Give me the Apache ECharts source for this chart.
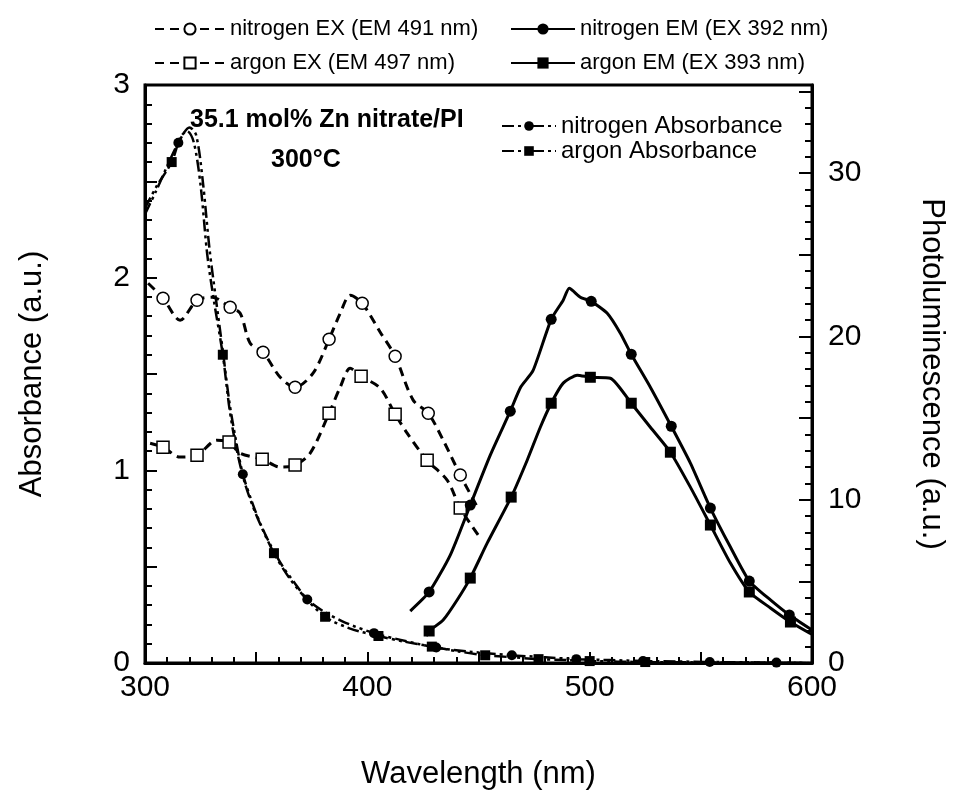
<!DOCTYPE html>
<html><head><meta charset="utf-8">
<script src="https://cdn.jsdelivr.net/npm/echarts@6/dist/echarts.min.js"></script>
<style>html,body{margin:0;padding:0;background:#fff}#c{width:957px;height:797px}</style>
</head><body><div id="c"></div><script>
const FONT = "'Liberation Sans', Arial, sans-serif";

// ---- data (wavelength nm, value) ----
// Photoluminescence (right axis)
const nitrogenEX = [[301.4,23.26],[308.1,22.34],[315.8,20.99],[323.4,22.22],[330.2,22.40],[338.3,21.79],[342.8,21.42],[347.3,19.58],[353.1,19.03],[360.8,17.50],[367.5,16.89],[375.6,17.75],[382.8,19.83],[387.8,21.42],[392.3,22.52],[397.7,22.03],[405.8,20.26],[412.5,18.79],[420.6,16.10],[427.4,15.30],[434.1,13.65],[441.8,11.51],[449.0,9.67]];
const nitrogenEXMarks = [[308.1,22.34],[323.4,22.22],[338.3,21.79],[353.1,19.03],[367.5,16.89],[382.8,19.83],[397.7,22.03],[412.5,18.79],[427.4,15.30],[441.8,11.51]];

const argonEX = [[302.3,13.46],[308.1,13.22],[315.8,12.61],[323.4,12.73],[332.4,13.65],[337.8,13.53],[342.8,12.85],[352.7,12.48],[360.8,12.00],[367.5,12.12],[374.3,12.85],[382.8,15.30],[387.8,16.89],[392.3,18.05],[397.2,17.56],[405.8,16.83],[412.5,15.24],[417.9,14.08],[426.9,12.42],[435.9,11.20],[441.8,9.49],[449.9,7.83]];
const argonEXMarks = [[308.1,13.22],[323.4,12.73],[337.8,13.53],[352.7,12.48],[367.5,12.12],[382.8,15.30],[397.2,17.56],[412.5,15.24],[426.9,12.42],[441.8,9.49]];

const nitrogenEM = [[419.3,3.18],[427.8,4.35],[437.3,6.61],[446.3,9.67],[455.3,12.73],[464.3,15.42],[469.0,16.90],[474.5,17.90],[482.7,21.05],[488.1,22.22],[490.8,22.95],[495.8,22.40],[500.7,22.15],[507.9,21.42],[513.8,20.20],[518.7,18.91],[527.3,16.89],[536.7,14.50],[545.3,12.24],[554.3,9.49],[563.3,7.10],[571.8,5.02],[581.3,3.86],[589.8,2.94],[600,2.02]];
const nitrogenEMMarks = [[427.8,4.35],[446.3,9.67],[464.3,15.42],[482.7,21.05],[500.7,22.15],[518.7,18.91],[536.7,14.50],[554.3,9.49],[571.8,5.02],[589.8,2.94]];

const argonEM = [[426.5,1.65],[427.8,1.96],[434.1,2.63],[440.4,3.86],[446.3,5.20],[453.9,7.34],[464.7,10.16],[471.9,12.42],[477.8,14.44],[482.7,15.91],[488.1,17.14],[494.4,17.63],[500.3,17.50],[509.3,17.44],[518.7,15.91],[527.3,14.44],[536.3,12.91],[545.3,10.77],[554.3,8.45],[563.3,6.12],[571.8,4.35],[581.3,3.37],[590.3,2.51],[598.8,1.84],[600,1.77]];
const argonEMMarks = [[427.8,1.96],[446.3,5.20],[464.7,10.16],[482.7,15.91],[500.3,17.50],[518.7,15.91],[536.3,12.91],[554.3,8.45],[571.8,4.35],[590.3,2.51]];

// Absorbance (left axis)
const nitrogenAbs = [[300,2.33],[305,2.45],[310,2.58],[315,2.70],[320,2.78],[323,2.74],[326,2.50],[329,2.15],[332,1.88],[335,1.62],[338,1.35],[341,1.15],[344,0.98],[348,0.84],[352,0.72],[357,0.60],[362,0.50],[367,0.42],[373,0.33],[380,0.27],[390,0.21],[403,0.155],[415,0.12],[431,0.08],[445,0.06],[465,0.04],[480,0.03],[494,0.02],[510,0.015],[524,0.01],[540,0.008],[554,0.005],[570,0.004],[584,0.002],[600,0.0]];
const nitrogenAbsMarks = [[315,2.70],[344,0.98],[373,0.33],[403,0.155],[431,0.08],[465,0.04],[494,0.02],[524,0.01],[554,0.005],[584,0.002]];

const argonAbs = [[300,2.36],[305,2.47],[312,2.60],[316,2.73],[319,2.76],[322,2.70],[325,2.48],[328,2.12],[331,1.88],[335,1.60],[338,1.32],[341,1.12],[345,0.93],[350,0.77],[358,0.57],[365,0.44],[372,0.34],[381,0.24],[392,0.18],[405,0.14],[417,0.11],[429,0.085],[441,0.06],[453,0.04],[465,0.03],[477,0.02],[490,0.015],[500,0.01],[525,0.005],[550,0.003],[575,0.002],[600,0.0]];
const argonAbsMarks = [[312,2.60],[335,1.60],[358,0.57],[381,0.24],[405,0.14],[429,0.085],[453,0.04],[477,0.02],[500,0.01],[525,0.005]];

// axis ranges / ticks
const xRange = [300, 600];
const absRange = [0, 3];
const plRange = [0, 35.4];

const names = {
  nEX: 'nitrogen EX (EM 491 nm)', aEX: 'argon EX (EM 497 nm)',
  nEM: 'nitrogen EM (EX 392 nm)', aEM: 'argon EM (EX 393 nm)',
  nAbs: 'nitrogen Absorbance', aAbs: 'argon Absorbance'
};

const K = '#000';
function lineSeries(name, data, yIdx, symbol, open, lineType, lw, smooth, symSize) {
  return {
    name, type: 'line', data, xAxisIndex: 0, yAxisIndex: yIdx,
    symbol, symbolSize: symSize, showSymbol: false, smooth,
    lineStyle: { color: K, width: lw, type: lineType },
    itemStyle: open ? { color: '#fff', borderColor: K, borderWidth: 1.5 } : { color: K, borderColor: K },
    z: 2, silent: true, animation: false
  };
}
function markSeries(name, data, yIdx, symbol, open, size) {
  return {
    name: name + ' marks', type: 'scatter', data, xAxisIndex: 0, yAxisIndex: yIdx,
    symbol, symbolSize: size,
    itemStyle: open ? { color: '#fff', borderColor: K, borderWidth: 1.5, opacity: 1 } : { color: K, opacity: 1 },
    z: 3, silent: true, animation: false
  };
}
const dashEX = [9, 6];
const dashAbs = [12, 4, 3, 4, 3, 4];

const chart = echarts.init(document.getElementById('c'), null, { renderer: 'canvas' });
chart.setOption({
  animation: false,
  backgroundColor: '#fff',
  grid: { left: 145, right: 145, top: 85, bottom: 134, show: true, borderColor: K, borderWidth: 3, backgroundColor: 'transparent' },
  xAxis: [{
    type: 'value', min: xRange[0], max: xRange[1], interval: 50,
    axisLine: { lineStyle: { color: K, width: 3 } },
    axisTick: { inside: true, length: 11, lineStyle: { color: K, width: 2 } },
    minorTick: { show: true, splitNumber: 5, length: 6, lineStyle: { color: K, width: 2 } },
    splitLine: { show: false },
    axisLabel: { color: K, fontSize: 30, fontFamily: FONT, margin: 10, formatter: v => (v % 100 === 0 ? String(v) : '') },
    name: 'Wavelength (nm)', nameLocation: 'middle', nameGap: 96,
    nameTextStyle: { color: K, fontSize: 31, fontFamily: FONT }
  }],
  yAxis: [{
    type: 'value', min: absRange[0], max: absRange[1], interval: 0.5, position: 'left',
    axisLine: { show: true, lineStyle: { color: K, width: 3 } },
    axisTick: { inside: true, length: 12, lineStyle: { color: K, width: 2 } },
    minorTick: { show: true, splitNumber: 5, length: 7, lineStyle: { color: K, width: 2 } },
    splitLine: { show: false },
    axisLabel: { color: K, fontSize: 30, fontFamily: FONT, margin: 15, formatter: v => (Math.abs(v - Math.round(v)) < 1e-9 ? String(Math.round(v)) : '') },
    name: 'Absorbance (a.u.)', nameLocation: 'middle', nameRotate: 90, nameGap: 97,
    nameTextStyle: { color: K, fontSize: 31, fontFamily: FONT }
  }, {
    type: 'value', min: plRange[0], max: plRange[1], interval: 5, position: 'right',
    axisLine: { show: true, lineStyle: { color: K, width: 3 } },
    axisTick: { inside: true, length: 13, lineStyle: { color: K, width: 2 } },
    splitLine: { show: false },
    axisLabel: { color: K, fontSize: 30, fontFamily: FONT, margin: 16, formatter: v => (v % 10 === 0 ? String(v) : '') },
    name: 'Photoluminescence (a.u.)', nameLocation: 'middle', nameRotate: -90, nameGap: 104,
    nameTextStyle: { color: K, fontSize: 31, fontFamily: FONT }
  }, {
    type: 'value', min: plRange[0], max: plRange[1], interval: 1, position: 'right',
    axisLine: { show: false },
    axisTick: { inside: true, length: 7, lineStyle: { color: K, width: 2 } },
    splitLine: { show: false },
    axisLabel: { show: false }
  }],
  legend: [{
    left: 149, top: 13, orient: 'vertical', itemWidth: 70, itemHeight: 14, itemGap: 12, selectedMode: false,
    textStyle: { color: K, fontSize: 22, fontFamily: FONT }, data: [names.nEX, names.aEX]
  }, {
    left: 505, top: 13, orient: 'vertical', itemWidth: 64, itemHeight: 14, itemGap: 12, selectedMode: false,
    textStyle: { color: K, fontSize: 22, fontFamily: FONT }, data: [names.nEM, names.aEM]
  }, {
    left: 496, top: 109, orient: 'vertical', itemWidth: 54, itemHeight: 12, itemGap: 1, selectedMode: false,
    textStyle: { color: K, fontSize: 24, fontFamily: FONT }, data: [names.nAbs, names.aAbs]
  }],
  graphic: [
    { type: 'text', left: 190, top: 108, style: { text: '35.1 mol% Zn nitrate/PI', font: 'bold 25px ' + FONT, fill: K } },
    { type: 'text', left: 271, top: 148, style: { text: '300°C', font: 'bold 25px ' + FONT, fill: K } }
  ],
  series: [
    lineSeries(names.nEX, nitrogenEX, 1, 'circle', true, dashEX, 3, 0.3, 12),
    markSeries(names.nEX, nitrogenEXMarks, 1, 'circle', true, 12),
    lineSeries(names.aEX, argonEX, 1, 'rect', true, dashEX, 3, 0.3, 12),
    markSeries(names.aEX, argonEXMarks, 1, 'rect', true, 12),
    lineSeries(names.nEM, nitrogenEM, 1, 'circle', false, 'solid', 3, 0.2, 11),
    markSeries(names.nEM, nitrogenEMMarks, 1, 'circle', false, 11),
    lineSeries(names.aEM, argonEM, 1, 'rect', false, 'solid', 3, 0.2, 11),
    markSeries(names.aEM, argonEMMarks, 1, 'rect', false, 11),
    lineSeries(names.nAbs, nitrogenAbs, 0, 'circle', false, dashAbs, 2.5, 0.3, 10),
    markSeries(names.nAbs, nitrogenAbsMarks, 0, 'circle', false, 10),
    lineSeries(names.aAbs, argonAbs, 0, 'rect', false, dashAbs, 2.5, 0.3, 10),
    markSeries(names.aAbs, argonAbsMarks, 0, 'rect', false, 10)
  ]
});
</script></body></html>
